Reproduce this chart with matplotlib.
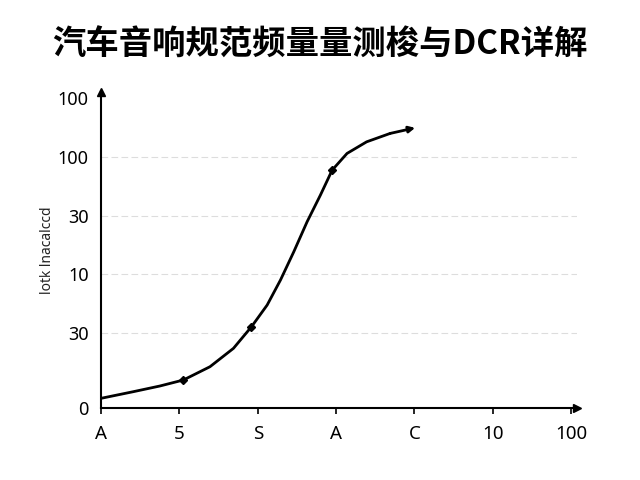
import matplotlib
matplotlib.use("Agg")
import matplotlib.pyplot as plt

plt.rcParams['font.family'] = ['Noto Sans', 'Noto Sans CJK SC', 'DejaVu Sans']

title = "汽车音响规范频量量测梭与DCR详解"
ylabel = "lotk lnacalccd"

x_ticks = [0, 1, 2, 3, 4, 5, 6]
x_labels = ["A", "5", "S", "A", "C", "10", "100"]
y_ticks = [0, 75, 134, 192, 251, 310]
y_labels = ["0", "30", "10", "30", "100", "100"]

# curve
curve_x = [0, 0.41, 0.75, 1.05, 1.39, 1.69, 1.92, 2.12, 2.29, 2.46, 2.63, 2.80, 2.95,
           3.14, 3.39, 3.69, 4.01]
curve_y = [9.7, 16.3, 22, 28, 41.3, 59.7, 81.3, 103, 128, 156.3, 186.3, 213, 238,
           254.7, 266.3, 274.7, 280.3]
mark_x = [1.05, 1.92, 2.95]
mark_y = [28, 81.3, 238]

fig = plt.figure(figsize=(6.4, 4.8), dpi=100)
ax = fig.add_axes([0.158, 0.15, 0.744, 0.658])

ax.plot(curve_x[:-1], curve_y[:-1], color='black', lw=2,
        solid_capstyle='round', solid_joinstyle='round')
ax.annotate("", xy=(curve_x[-1], curve_y[-1]), xytext=(curve_x[-2], curve_y[-2]),
            arrowprops=dict(arrowstyle='-|>', color='black', lw=2,
                            mutation_scale=9, shrinkA=0, shrinkB=0))
ax.plot(mark_x, mark_y, 'D', color='black', ms=4)

for yv in y_ticks[1:-1]:
    ax.axhline(yv, color='#dddddd', lw=0.8, ls=(0, (6, 3)), zorder=0)

ax.set_xlim(0, 6.08)
ax.set_ylim(0, 316)
ax.set_xticks(x_ticks)
ax.set_xticklabels(x_labels, fontsize=13.5)
ax.set_yticks(y_ticks)
ax.set_yticklabels(y_labels, fontsize=13)
ax.tick_params(axis='x', length=4, width=1.2, pad=8)
ax.tick_params(axis='y', length=0, pad=9)

for s in ['top', 'right']:
    ax.spines[s].set_visible(False)
for s in ['left', 'bottom']:
    ax.spines[s].set_linewidth(1.5)

ax.plot(0, 1, '^', color='black', ms=6, transform=ax.transAxes, clip_on=False)
ax.plot(1, 0, '>', color='black', ms=6, transform=ax.transAxes, clip_on=False)

ax.set_ylabel(ylabel, fontsize=10, labelpad=2, color='#222222')

fig.text(0.5, 0.905, title, ha='center', va='center', fontsize=24, fontweight='bold',
         family=['Noto Sans CJK SC', 'DejaVu Sans'])

fig.savefig("out.png", dpi=100)
